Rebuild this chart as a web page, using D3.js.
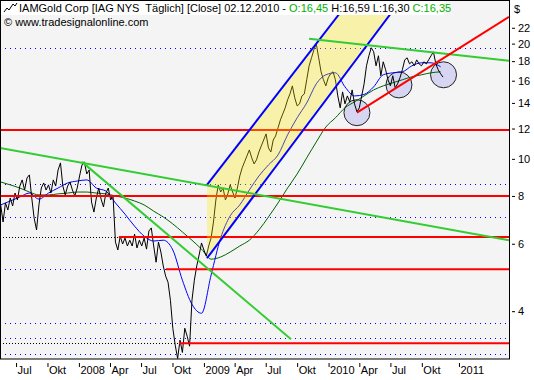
<!DOCTYPE html>
<html><head><meta charset="utf-8">
<script src="https://cdn.jsdelivr.net/npm/d3@7"></script>
<style>
body{margin:0;background:#fff;}
svg{display:block;font-family:Tahoma,"Liberation Sans",Arial,sans-serif;}
</style>
</head><body>
<svg id="c" width="534" height="380"></svg>
<script>
// ---------------- DATA ----------------
const lastDate = "2010-12-02";
const headerTitle = "IAMGold Corp [IAG NYS  Täglich] [Close] 02.12.2010 - ";
const headerOpen = "O:16,45", headerHigh = "H:16,59", headerLow = "L:16,30", headerClose = "C:16,35";
const copyright = "© www.tradesignalonline.com";

// weekly closes, last one on 02.12.2010
const closes = [
7.58,6.84,7.67,7.35,7.90,7.53,8.14,7.81,8.49,8.81,
8.29,8.91,9.08,7.90,7.00,6.52,7.58,8.39,8.65,8.29,
8.55,8.14,8.81,8.49,9.35,9.76,8.49,8.05,8.49,8.70,
8.29,8.00,8.39,9.02,9.64,9.82,9.13,9.35,7.71,7.26,
7.90,8.39,7.85,7.49,8.14,8.39,7.81,8.00,6.06,5.78,
6.28,5.99,6.21,5.92,6.13,5.92,6.36,5.85,6.13,5.92,
6.21,5.81,6.48,6.60,5.92,5.37,6.06,5.71,5.25,4.94,
4.76,4.27,3.61,3.26,3.01,3.36,3.12,3.61,3.44,3.24,
4.27,4.82,5.25,5.61,6.03,5.78,5.57,5.92,6.21,6.84,
7.81,8.55,8.19,8.39,7.81,8.10,8.55,8.19,7.90,8.39,
9.02,9.47,9.82,10.18,10.55,10.06,9.70,9.94,10.42,10.81,
11.20,11.62,10.68,10.42,11.20,11.48,12.05,12.64,13.11,13.59,
14.26,14.78,15.51,14.43,13.75,13.92,14.60,14.78,16.09,17.50,
18.36,19.27,19.97,18.36,16.88,16.09,15.51,16.28,16.68,16.88,
16.09,14.60,13.59,14.96,13.92,14.60,14.09,15.14,13.92,13.27,
13.59,14.60,15.70,17.50,18.59,19.51,19.04,17.50,18.59,16.48,
17.93,17.09,16.09,15.51,16.48,15.32,15.70,16.28,17.09,18.14,
18.36,17.71,17.93,17.50,18.14,17.71,17.50,17.93,17.71,18.14,
18.59,19.04,17.71,17.09,16.68,16.35];

// moving averages sampled every 4th week of the close series
const maFast = [7.58,7.76,7.95,8.14,7.85,8.14,8.39,8.65,8.75,8.81,
8.39,8.24,7.67,7.17,6.67,6.28,6.10,6.13,5.78,4.82,
4.17,3.95,4.97,6.21,7.10,7.58,8.29,9.02,9.64,10.24,
11.55,12.80,14.00,15.70,16.58,16.78,15.42,14.60,14.73,15.42,
16.58,16.78,16.88,17.50,17.82,17.82,17.40];
const maSlow = [8.70,8.55,8.39,8.19,8.05,8.05,8.10,8.14,8.19,8.19,
8.14,8.10,8.00,7.90,7.76,7.58,7.30,7.05,6.76,6.44,
6.13,5.81,5.47,5.54,5.71,5.92,6.13,6.52,7.05,7.67,
8.39,9.13,10.06,11.07,12.11,12.80,13.59,14.09,14.60,15.14,
15.51,15.80,16.09,16.38,16.58,16.78,16.88];

// trend lines: [startDate, startPrice, endDate, endPrice]
const greenTrendLines = [
  ["2007-05-15",10.68,"2011-04-05",6.13],
  ["2008-01-10",9.82,"2009-09-13",3.38],
  ["2009-11-05",20.59,"2011-04-05",18.04]
];
const redTrendLine = ["2010-03-25",13.2,"2011-04-05",23.5];
const channelUpper = ["2009-01-10",8.55,"2010-03-05",26.0];
const channelLower = ["2009-01-10",5.50,"2010-08-01",26.0];

// horizontal levels
const redLevels = [11.9, 8.0, 6.25, 5.15, 3.30];
const redLevelStart = ["2007-05-15","2007-05-15","2008-04-27","2008-09-12","2008-10-20"];
const blackDottedLevels = [6.25, 3.30];
const blackDottedEnd = ["2008-04-27","2008-10-20"];
const blueDottedLevels = [19.5, 8.6, 7.05, 3.72, 3.40, 3.09, 5.15];
const blueDottedEnd = ["2011-04-05","2011-04-05","2011-04-05","2011-04-05","2011-04-05","2011-04-05","2008-09-12"];

// marked circles: [date, price]
const circleMarks = [["2010-03-25",13.2],["2010-07-26",15.6],["2010-12-03",16.58]];

const xTickDates = ["2007-07-01","2007-10-01","2008-01-01","2008-04-01","2008-07-01","2008-10-01","2009-01-01","2009-04-01","2009-07-01","2009-10-01","2010-01-01","2010-04-01","2010-07-01","2010-10-01","2011-01-01"];
const xTickLabels = ["Jul","Okt","2008","Apr","Jul","Okt","2009","Apr","Jul","Okt","2010","Apr","Jul","Okt","2011"];
const yTicks = [4,6,8,10,12,14,16,18,20,22];

// ---------------- CHART ----------------
const parse = d3.timeParse("%Y-%m-%d");
const W = 509, H = 359;
const svg = d3.select("#c");

const x = d3.scaleTime()
  .domain([parse("2007-05-15"), parse(lastDate), parse("2011-04-05")])
  .range([0, 443, W]);
const y = d3.scaleLog().domain([3.0, 26.0]).range([H, 0]);

const end = parse(lastDate);
const weekDates = closes.map((_, i) => d3.timeDay.offset(end, -7 * (closes.length - 1 - i)));
const maDates = weekDates.filter((_, i) => i % 4 === 0);

svg.append("defs").append("clipPath").attr("id","clip")
  .append("rect").attr("x",0).attr("y",0).attr("width",W).attr("height",H);

svg.append("rect").attr("x",0).attr("y",0).attr("width",W).attr("height",H).attr("fill","#f4f4f4");

const g = svg.append("g").attr("clip-path","url(#clip)");

// dotted levels
blueDottedLevels.forEach((p,i) => {
  g.append("line").attr("x1",0).attr("x2",x(parse(blueDottedEnd[i])))
    .attr("y1",Math.round(y(p))+0.5).attr("y2",Math.round(y(p))+0.5)
    .attr("stroke","#0000ff").attr("stroke-dasharray","1,4");
});
blackDottedLevels.forEach((p,i) => {
  g.append("line").attr("x1",0).attr("x2",x(parse(blackDottedEnd[i])))
    .attr("y1",Math.round(y(p))+0.5).attr("y2",Math.round(y(p))+0.5)
    .attr("stroke","#000").attr("stroke-dasharray","1,2");
});

// circles
circleMarks.forEach(c => {
  g.append("circle").attr("cx",x(parse(c[0]))).attr("cy",y(c[1])).attr("r",13)
    .attr("fill","#d6d6f2").attr("stroke","#222").attr("stroke-width",1);
});

// moving averages
const lineGen = d3.line().x(d => x(d[0])).y(d => y(d[1])).curve(d3.curveMonotoneX);
g.append("path").datum(maDates.map((d,i)=>[d,maSlow[i]])).attr("d",lineGen)
  .attr("fill","none").attr("stroke","#006400").attr("stroke-width",1);
g.append("path").datum(maDates.map((d,i)=>[d,maFast[i]])).attr("d",lineGen)
  .attr("fill","none").attr("stroke","#0000ff").attr("stroke-width",1);

// price
const priceLine = d3.line().x(d => x(d[0])).y(d => y(d[1]));
g.append("path").datum(weekDates.map((d,i)=>[d,closes[i]])).attr("d",priceLine)
  .attr("fill","none").attr("stroke","#000").attr("stroke-width",1);

// red levels
redLevels.forEach((p,i) => {
  g.append("line").attr("x1",x(parse(redLevelStart[i]))).attr("x2",W)
    .attr("y1",y(p)).attr("y2",y(p)).attr("stroke","#ff0000").attr("stroke-width",2);
});

// yellow channel fill (semi transparent, drawn over price)
const cu = channelUpper, cl = channelLower;
g.append("path").attr("d", d3.line()([
  [x(parse(cu[0])), y(cu[1])], [x(parse(cu[2])), y(cu[3])],
  [x(parse(cl[2])), y(cl[3])], [x(parse(cl[0])), y(cl[1])]
]) + "Z").attr("fill","rgb(255,235,0)").attr("fill-opacity",0.3);

function seg(L, color, w) {
  g.append("line").attr("x1",x(parse(L[0]))).attr("y1",y(L[1]))
    .attr("x2",x(parse(L[2]))).attr("y2",y(L[3]))
    .attr("stroke",color).attr("stroke-width",w);
}
seg(channelUpper, "#0000ff", 2);
seg(channelLower, "#0000ff", 2);
greenTrendLines.forEach(L => seg(L, "#33cc33", 2));
seg(redTrendLine, "#ff0000", 2);

// frame
svg.append("rect").attr("x",0.5).attr("y",0.5).attr("width",W).attr("height",H-0.5)
  .attr("fill","none").attr("stroke","#000");

// header
svg.append("rect").attr("x",1).attr("y",1).attr("width",443).attr("height",14).attr("fill","#fff");
svg.append("polyline").attr("points","4,12 7,8 9,10 13,4 15,6 17,3")
  .attr("fill","none").attr("stroke","#000");
const ht = svg.append("text").attr("x",19).attr("y",12).attr("font-size",11)
  .style("white-space","pre");
ht.append("tspan").attr("fill","#000").text(headerTitle);
ht.append("tspan").attr("fill","#00b000").text(headerOpen + " ");
ht.append("tspan").attr("fill","#000").text(headerHigh + " " + headerLow + " ");
ht.append("tspan").attr("fill","#00b000").text(headerClose);
svg.append("text").attr("x",4).attr("y",26).attr("font-size",11).attr("fill","#000").text(copyright);

// y axis
const ya = svg.append("g").attr("transform",`translate(${W+3},0)`)
  .call(d3.axisRight(y).tickValues(yTicks).tickSize(3).tickPadding(3).tickFormat(d3.format("d")));
ya.select(".domain").remove();
ya.selectAll("text").attr("font-size",11).attr("font-family",null).attr("fill","#000");
svg.append("text").attr("x",514).attr("y",13).attr("font-size",11).text("$");

// x axis
const xa = svg.append("g").attr("transform",`translate(0,${H+4})`)
  .call(d3.axisBottom(x).tickValues(xTickDates.map(parse)).tickSize(4)
    .tickFormat((d,i)=>xTickLabels[i]));
xa.select(".domain").remove();
xa.selectAll("text").attr("font-size",11).attr("font-family",null).attr("fill","#000")
  .attr("text-anchor","start").attr("x",1).attr("y",3);
</script>
</body></html>
